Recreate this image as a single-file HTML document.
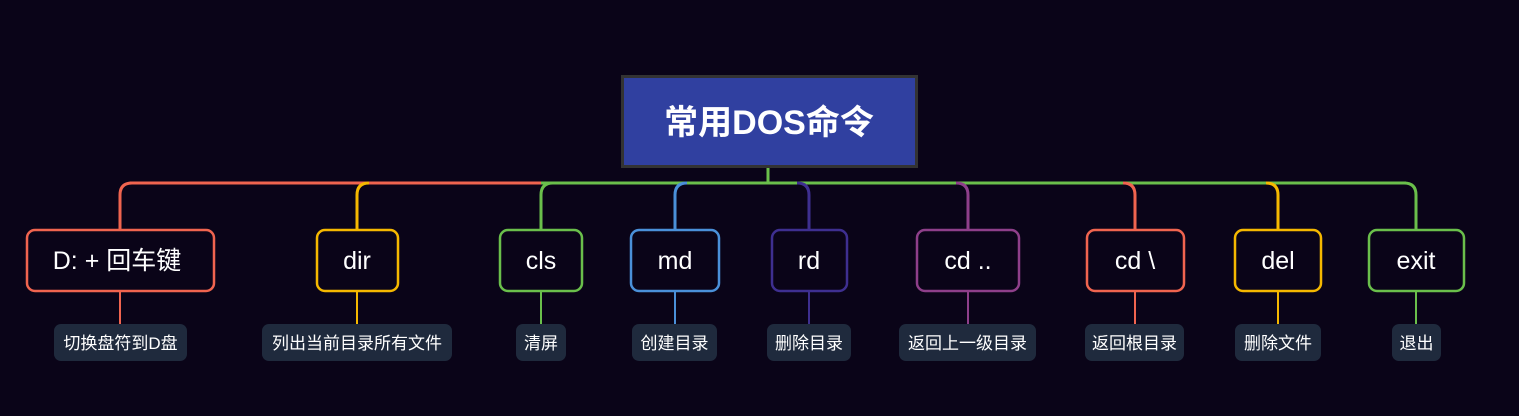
<!DOCTYPE html>
<html><head><meta charset="utf-8"><style>
body{margin:0;background:#0a0418;width:1519px;height:411px;overflow:hidden}
svg text{font-family:"Liberation Sans","Noto Sans CJK SC",sans-serif;fill:#fff}
</style></head><body>
<svg width="1519" height="411" viewBox="0 0 1519 411">
<rect width="1519" height="411" fill="#0a0418"/>
<g fill="none" stroke-width="3">
<line x1="768" y1="167" x2="768" y2="184" stroke="#6abf4b"/>
<line x1="130" y1="183" x2="541" y2="183" stroke="#f0644f"/>
<line x1="541" y1="183" x2="1406" y2="183" stroke="#6abf4b"/>
<path d="M132,183 Q120,183 120,195 L120,230" stroke="#f0644f"/>
<path d="M369,183 Q357,183 357,195 L357,230" stroke="#f5b800"/>
<path d="M553,183 Q541,183 541,195 L541,230" stroke="#6abf4b"/>
<path d="M687,183 Q675,183 675,195 L675,230" stroke="#4a90d9"/>
<path d="M797,183 Q809,183 809,195 L809,230" stroke="#3e2f90"/>
<path d="M956,183 Q968,183 968,195 L968,230" stroke="#8e3f8a"/>
<path d="M1123,183 Q1135,183 1135,195 L1135,230" stroke="#f0644f"/>
<path d="M1266,183 Q1278,183 1278,195 L1278,230" stroke="#f5b800"/>
<path d="M1404,183 Q1416,183 1416,195 L1416,230" stroke="#6abf4b"/>
</g>
<rect x="622.5" y="76.5" width="294" height="90" fill="#3040a0" stroke="#333" stroke-width="3"/>
<text x="769" y="134" font-size="34" font-weight="bold" text-anchor="middle">常用DOS命令</text>
<g stroke-width="2.5" fill="#0a0418">
<rect x="27" y="230" width="187" height="61" rx="8" stroke="#f0644f"/>
<rect x="317" y="230" width="81" height="61" rx="8" stroke="#f5b800"/>
<rect x="500" y="230" width="82" height="61" rx="8" stroke="#6abf4b"/>
<rect x="631" y="230" width="88" height="61" rx="8" stroke="#4a90d9"/>
<rect x="772" y="230" width="75" height="61" rx="8" stroke="#3e2f90"/>
<rect x="917" y="230" width="102" height="61" rx="8" stroke="#8e3f8a"/>
<rect x="1087" y="230" width="97" height="61" rx="8" stroke="#f0644f"/>
<rect x="1235" y="230" width="86" height="61" rx="8" stroke="#f5b800"/>
<rect x="1369" y="230" width="95" height="61" rx="8" stroke="#6abf4b"/>
</g>
<g stroke-width="2">
<line x1="120" y1="291" x2="120" y2="324" stroke="#f0644f"/>
<line x1="357" y1="291" x2="357" y2="324" stroke="#f5b800"/>
<line x1="541" y1="291" x2="541" y2="324" stroke="#6abf4b"/>
<line x1="675" y1="291" x2="675" y2="324" stroke="#4a90d9"/>
<line x1="809" y1="291" x2="809" y2="324" stroke="#3e2f90"/>
<line x1="968" y1="291" x2="968" y2="324" stroke="#8e3f8a"/>
<line x1="1135" y1="291" x2="1135" y2="324" stroke="#f0644f"/>
<line x1="1278" y1="291" x2="1278" y2="324" stroke="#f5b800"/>
<line x1="1416" y1="291" x2="1416" y2="324" stroke="#6abf4b"/>
</g>
<g font-size="25" text-anchor="middle">
<text x="117" y="269">D: + 回车键</text>
<text x="357" y="269">dir</text>
<text x="541" y="269">cls</text>
<text x="675" y="269">md</text>
<text x="809" y="269">rd</text>
<text x="968" y="269">cd ..</text>
<text x="1135" y="269">cd \</text>
<text x="1278" y="269">del</text>
<text x="1416" y="269">exit</text>
</g>
<g fill="#1f2a3d">
<rect x="54" y="324" width="133" height="37" rx="7"/>
<rect x="262" y="324" width="190" height="37" rx="7"/>
<rect x="516" y="324" width="50" height="37" rx="7"/>
<rect x="632" y="324" width="85" height="37" rx="7"/>
<rect x="767" y="324" width="84" height="37" rx="7"/>
<rect x="899" y="324" width="137" height="37" rx="7"/>
<rect x="1085" y="324" width="99" height="37" rx="7"/>
<rect x="1235" y="324" width="86" height="37" rx="7"/>
<rect x="1392" y="324" width="49" height="37" rx="7"/>
</g>
<g font-size="17" text-anchor="middle">
<text x="120.5" y="349">切换盘符到D盘</text>
<text x="357" y="349">列出当前目录所有文件</text>
<text x="541" y="349">清屏</text>
<text x="674.5" y="349">创建目录</text>
<text x="809" y="349">删除目录</text>
<text x="967.5" y="349">返回上一级目录</text>
<text x="1134.5" y="349">返回根目录</text>
<text x="1278" y="349">删除文件</text>
<text x="1416.5" y="349">退出</text>
</g>
</svg>
</body></html>
